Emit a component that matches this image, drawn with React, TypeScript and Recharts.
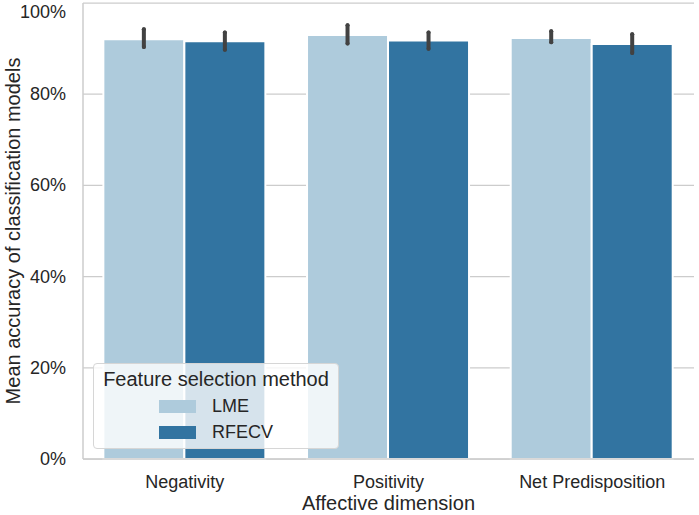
import React from "react";
import {
  BarChart,
  Bar,
  XAxis,
  YAxis,
  CartesianGrid,
  ErrorBar,
  Label,
} from "recharts";

// values (percent)
const categories = ["Negativity", "Positivity", "Net Predisposition"];
const lmeMeans = [92.05, 93.0, 92.3];
const lmeErr = [
  [1.7, 2.2],
  [1.9, 2.1],
  [0.9, 1.5],
];
const rfecvMeans = [91.6, 91.75, 91.0];
const rfecvErr = [
  [1.85, 1.95],
  [1.8, 1.8],
  [1.95, 2.15],
];
const yTicks = [0, 20, 40, 60, 80, 100];

const LME_COLOR = "#aecbdc";
const RFECV_COLOR = "#3274a1";
const TEXT = "#262626";
const GRID = "#cccccc";
const FONT = '"Liberation Sans", Arial, sans-serif';

const data = categories.map((c, i) => ({
  name: c,
  LME: lmeMeans[i],
  lmeErr: lmeErr[i],
  RFECV: rfecvMeans[i],
  rfecvErr: rfecvErr[i],
}));

const YTick = (props: any) => {
  const { x, y, payload } = props;
  return (
    <text
      x={x}
      y={Math.max(y, 12)}
      textAnchor="end"
      dominantBaseline="central"
      fontSize={18}
      fill={TEXT}
      fontFamily={FONT}
    >
      {payload.value}%
    </text>
  );
};

const XTick = (props: any) => {
  const { x, y, payload } = props;
  return (
    <text x={x} y={y + 29} textAnchor="middle" fontSize={18} fill={TEXT} fontFamily={FONT}>
      {payload.value}
    </text>
  );
};

function LegendBox() {
  const items = [
    { label: "LME", color: LME_COLOR, top: 36 },
    { label: "RFECV", color: RFECV_COLOR, top: 62 },
  ];
  return (
    <div
      style={{
        position: "absolute",
        left: 93,
        top: 363,
        width: 246,
        height: 86,
        boxSizing: "border-box",
        border: "1px solid #d6d6d6",
        borderRadius: 4,
        background: "rgba(255,255,255,0.8)",
        fontFamily: FONT,
        color: TEXT,
      }}
    >
      <div
        style={{
          position: "absolute",
          left: 0,
          right: 0,
          top: 3,
          textAlign: "center",
          fontSize: 20,
          lineHeight: "24px",
        }}
      >
        Feature selection method
      </div>
      {items.map((it) => (
        <div key={it.label}>
          <div
            style={{
              position: "absolute",
              left: 65,
              top: it.top,
              width: 37,
              height: 13,
              background: it.color,
            }}
          />
          <div
            style={{
              position: "absolute",
              left: 118,
              top: it.top - 4,
              fontSize: 18,
              lineHeight: "21px",
            }}
          >
            {it.label}
          </div>
        </div>
      ))}
    </div>
  );
}

export default function App() {
  return (
    <div style={{ position: "absolute", left: 0, top: 0, width: 699, height: 515, background: "#fff" }}>
      <BarChart
        width={699}
        height={515}
        data={data}
        margin={{ top: 3, right: 5, bottom: 0, left: 0 }}
        barCategoryGap="10%"
        barGap={0}
      >
        <CartesianGrid vertical={false} stroke={GRID} strokeWidth={1.25} />
        <XAxis
          dataKey="name"
          height={56}
          tickLine={false}
          tickSize={0}
          tickMargin={0}
          axisLine={{ stroke: GRID, strokeWidth: 1.5 }}
          tick={<XTick />}
        >
          <Label
            content={(p: any) => {
              const vb = p.viewBox;
              return (
                <text
                  x={vb.x + vb.width / 2}
                  y={vb.y + 51}
                  textAnchor="middle"
                  fontSize={20}
                  fill={TEXT}
                  fontFamily={FONT}
                >
                  Affective dimension
                </text>
              );
            }}
          />
        </XAxis>
        <XAxis
          xAxisId="top"
          dataKey="name"
          orientation="top"
          height={0}
          tick={false}
          tickLine={false}
          axisLine={{ stroke: GRID, strokeWidth: 1.5 }}
        />
        <YAxis
          width={83}
          domain={[0, 100]}
          ticks={yTicks}
          interval={0}
          tickLine={false}
          tickSize={0}
          tickMargin={17}
          axisLine={{ stroke: GRID, strokeWidth: 1.5 }}
          tick={<YTick />}
        >
          <Label
            content={(p: any) => {
              const vb = p.viewBox;
              const cy = vb.y + vb.height / 2;
              return (
                <text
                  x={20}
                  y={cy}
                  transform={`rotate(-90, 20, ${cy})`}
                  textAnchor="middle"
                  fontSize={20}
                  fill={TEXT}
                  fontFamily={FONT}
                >
                  Mean accuracy of classification models
                </text>
              );
            }}
          />
        </YAxis>
        <YAxis
          yAxisId="right"
          orientation="right"
          width={0}
          domain={[0, 100]}
          tick={false}
          tickLine={false}
          axisLine={{ stroke: GRID, strokeWidth: 1.5 }}
        />
        <Bar dataKey="LME" fill={LME_COLOR} stroke="#ffffff" strokeWidth={2} isAnimationActive={false}>
          <ErrorBar dataKey="lmeErr" width={0} stroke="#424242" strokeWidth={4} strokeLinecap="round" />
        </Bar>
        <Bar dataKey="RFECV" fill={RFECV_COLOR} stroke="#ffffff" strokeWidth={2} isAnimationActive={false}>
          <ErrorBar dataKey="rfecvErr" width={0} stroke="#424242" strokeWidth={4} strokeLinecap="round" />
        </Bar>
      </BarChart>
      <LegendBox />
    </div>
  );
}
